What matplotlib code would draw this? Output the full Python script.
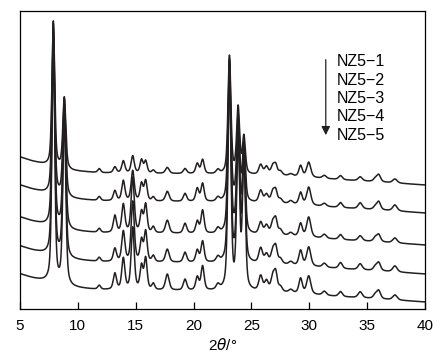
import numpy as np
import matplotlib
matplotlib.use('Agg')
import matplotlib.pyplot as plt

plt.rcParams['font.family'] = ['Liberation Sans', 'DejaVu Sans']

peak_pos = [7.88, 8.83, 11.85, 13.2, 13.93, 14.74, 15.5, 15.86, 16.52, 17.73,
            19.26, 20.32, 20.78, 22.1, 23.1, 23.85, 24.35, 25.8, 26.3, 26.85,
            27.1, 27.5, 28.4, 29.25, 29.95, 31.3, 32.7, 34.4, 35.7, 36.0, 37.4]
peak_fwhm = [0.28, 0.3, 0.3, 0.32, 0.32, 0.32, 0.3, 0.3, 0.3, 0.38,
             0.35, 0.32, 0.32, 0.35, 0.3, 0.3, 0.3, 0.38, 0.38, 0.38,
             0.32, 0.38, 0.4, 0.35, 0.42, 0.4, 0.38, 0.42, 0.38, 0.38, 0.45]

# peak heights for each sample (a.u.)
h_nz51 = [145, 71, 4, 6, 12, 17, 13, 12, 3, 6, 5, 10, 14, 4, 118, 66, 37,
          10, 8, 9, 9, 4, 2, 11, 15, 3, 4, 4, 3, 7, 4]
h_nz52 = [170, 97, 4, 10, 20, 30, 17, 20, 4, 10, 8, 13, 18, 4, 142, 84, 57,
          12, 8, 11, 11, 4, 3, 12, 18, 3, 5, 6, 3, 8, 6]
h_nz53 = [197, 124, 4, 17, 28, 55, 20, 28, 6, 13, 10, 12, 23, 5, 171, 106, 84,
          12, 9, 12, 14, 5, 3, 13, 20, 4, 5, 5, 4, 7, 5]
h_nz54 = [222, 148, 4, 13, 30, 60, 21, 30, 6, 13, 10, 12, 21, 5, 197, 128, 108,
          15, 9, 13, 15, 5, 3, 15, 19, 4, 6, 6, 4, 8, 6]
h_nz55 = [244, 171, 4, 16, 31, 62, 23, 31, 6, 16, 11, 13, 24, 5, 221, 149, 131,
          15, 10, 15, 17, 5, 3, 15, 18, 4, 5, 6, 4, 8, 5]
heights = [h_nz51, h_nz52, h_nz53, h_nz54, h_nz55]

# background shape and vertical offset of each trace
bg_2theta = [5, 6, 7.2, 9.5, 12, 20, 28, 33, 36, 40]
bg_shape = [16, 12, 8, 2, 0, -1, -3, -7, -9, -12]
offsets = [136, 108, 76, 47, 19]

samples = ['NZ5\u22121', 'NZ5\u22122', 'NZ5\u22123', 'NZ5\u22124', 'NZ5\u22125']

x = np.linspace(5, 40, 3501)


def pattern(h, off):
    y = off + np.interp(x, bg_2theta, bg_shape)
    for p, w, a in zip(peak_pos, peak_fwhm, h):
        u = (x - p) / (w / 2)
        y += a * (0.5 / (1 + u**2) + 0.5 * np.exp(-np.log(2) * u**2))
    return y


fig = plt.figure(figsize=(4.47, 3.59), dpi=100)
ax = fig.add_axes([20/447, 50/359, 405/447, 298/359])

for h, off in zip(heights, offsets):
    ax.plot(x, pattern(h, off), color='#231f20', lw=1.1)

ax.set_xlim(5, 40)
ax.set_ylim(0, 298)
ax.set_xticks(range(5, 41, 5))
ax.set_yticks([])
ax.tick_params(axis='x', direction='in', length=5, width=0.9, pad=7,
               labelsize=11)
for s in ax.spines.values():
    s.set_linewidth(0.9)
ax.set_xlabel(r'2$\it{\theta}$/°', fontsize=11, labelpad=3)

ax.annotate('', xy=(0.755, 0.574), xytext=(0.755, 0.846),
            xycoords='axes fraction',
            arrowprops=dict(arrowstyle='-|>', color='#231f20', lw=0.9,
                            mutation_scale=13))
for i, s in enumerate(samples):
    ax.text(0.783, 0.829 - i * 0.0613, s, transform=ax.transAxes,
            fontsize=11.5, va='center', ha='left')

fig.savefig('out.png', dpi=100)
